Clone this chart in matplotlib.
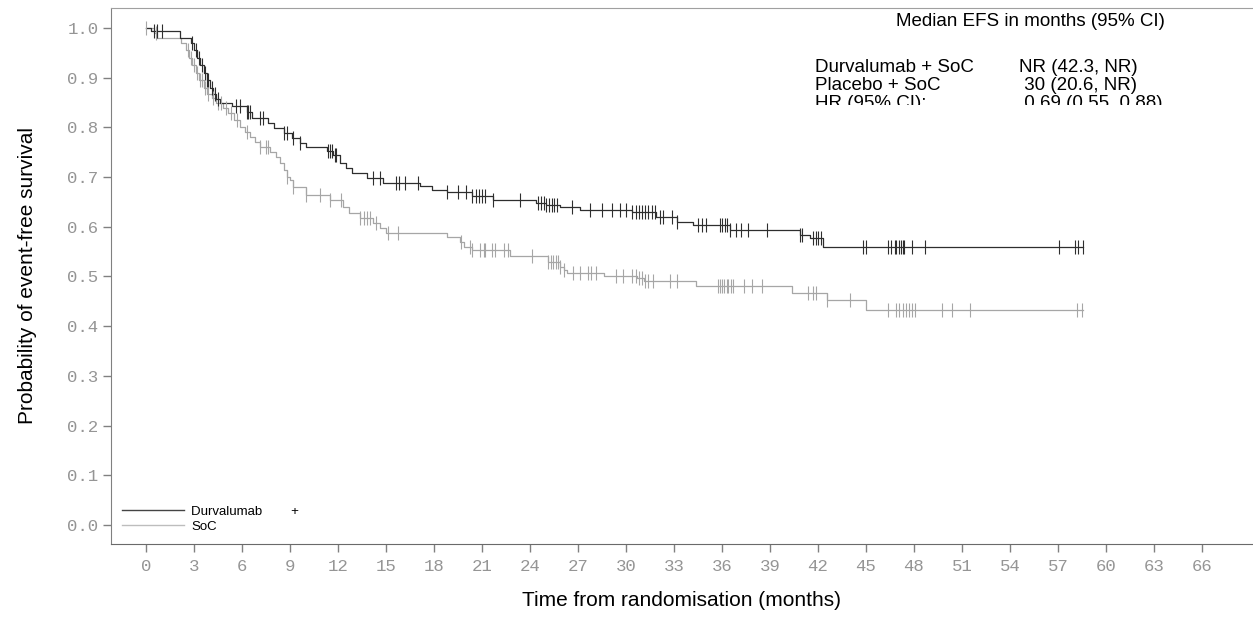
import numpy as np
import matplotlib
matplotlib.use("Agg")
import matplotlib.pyplot as plt
from matplotlib.lines import Line2D
from matplotlib.transforms import Bbox, TransformedBbox

# Kaplan-Meier step points: (month of drop, survival after drop)
durva_times = [0.0, 0.3, 2.1, 2.8, 3.0, 3.2, 3.4, 3.6, 3.8, 4.0, 4.2, 4.4, 4.6,
               5.4, 6.3, 6.6, 7.6, 8.0, 8.6, 9.1, 9.6, 10.0, 11.3, 11.7, 12.1,
               12.5, 12.9, 13.8, 14.8, 17.1, 17.9, 18.8, 20.4, 21.7, 24.4, 25.0,
               25.9, 27.1, 30.4, 31.9, 33.2, 34.2, 36.5, 40.9, 41.5, 42.3]
durva_surv = [1.0, 0.994, 0.98, 0.97, 0.955, 0.94, 0.925, 0.91, 0.895, 0.88,
              0.868, 0.856, 0.849, 0.843, 0.83, 0.819, 0.808, 0.798, 0.788,
              0.778, 0.768, 0.761, 0.752, 0.744, 0.728, 0.718, 0.708, 0.698,
              0.688, 0.682, 0.674, 0.670, 0.662, 0.654, 0.647, 0.644, 0.640,
              0.634, 0.630, 0.620, 0.610, 0.604, 0.594, 0.583, 0.577, 0.560]
durva_end = 58.6
durva_censor = [0.5, 0.7, 1.0, 2.9, 3.1, 3.3, 3.5, 3.7, 3.8, 3.9, 4.1, 4.3, 4.5,
                5.6, 5.9, 6.3, 6.4, 6.5, 7.1, 7.3, 8.6, 8.8, 9.2, 9.6, 11.4,
                11.5, 11.6, 11.8, 11.9, 14.2, 14.6, 15.6, 15.8, 16.2, 17.0,
                18.8, 19.5, 20.0, 20.4, 20.6, 20.8, 21.0, 21.2, 21.7, 23.4,
                24.5, 24.7, 24.9, 25.0, 25.2, 25.4, 25.5, 25.7, 26.6, 27.75,
                28.5, 29.1, 29.6, 30.0, 30.4, 30.6, 30.8, 31.0, 31.2, 31.4,
                31.6, 31.8, 32.1, 32.3, 32.9, 33.2, 34.5, 34.75, 35.0, 35.9,
                36.0, 36.2, 36.3, 36.5, 36.9, 37.2, 37.6, 38.8, 40.9, 41.0,
                41.7, 41.9, 42.0, 42.2, 44.8, 45.0, 46.4, 46.6, 46.8, 46.9,
                47.1, 47.2, 47.3, 47.4, 47.9, 48.7, 57.1, 58.1, 58.25, 58.6]

soc_times = [0.0, 0.5, 0.7, 2.2, 2.5, 2.7, 2.9, 3.1, 3.3, 3.6, 3.8, 4.1, 4.4,
             4.8, 5.1, 5.5, 5.9, 6.2, 6.5, 6.8, 7.1, 7.75, 8.1, 8.4, 8.6, 8.8,
             9.0, 9.2, 10.0, 11.5, 12.3, 12.7, 13.4, 14.2, 14.6, 15.0, 18.8,
             19.6, 19.9, 20.4, 22.75, 25.1, 25.9, 26.1, 26.3, 28.6, 30.7,
             31.1, 34.4, 40.4, 42.6, 45.0]
soc_surv = [1.0, 0.99, 0.98, 0.97, 0.955, 0.94, 0.925, 0.91, 0.895, 0.88,
            0.868, 0.858, 0.848, 0.838, 0.828, 0.815, 0.80, 0.79, 0.781,
            0.77, 0.761, 0.75, 0.74, 0.728, 0.714, 0.70, 0.694, 0.68, 0.664,
            0.654, 0.64, 0.628, 0.617, 0.607, 0.597, 0.587, 0.58, 0.57, 0.56,
            0.553, 0.542, 0.53, 0.52, 0.513, 0.508, 0.501, 0.497, 0.49, 0.48,
            0.467, 0.453, 0.433]
soc_end = 58.6
soc_censor = [0.0, 0.6, 2.6, 2.8, 3.0, 3.2, 3.4, 3.5, 3.7, 3.9, 4.2, 4.5, 4.7,
              5.0, 5.3, 5.7, 6.3, 7.1, 7.5, 7.6, 8.8, 9.2, 10.0, 10.9, 11.5,
              12.2, 13.4, 13.6, 13.8, 14.0, 14.4, 15.1, 15.75, 19.7, 20.25,
              20.4, 20.9, 21.1, 21.2, 21.6, 21.8, 22.4, 22.6, 24.1, 25.1,
              25.3, 25.45, 25.6, 25.75, 25.9, 26.1, 26.7, 27.1, 27.6, 27.8,
              28.1, 29.4, 29.8, 30.4, 30.6, 30.8, 31.0, 31.2, 31.4, 31.7,
              32.75, 33.2, 35.75, 35.9, 36.0, 36.15, 36.3, 36.4, 36.55, 36.7,
              37.4, 37.9, 38.5, 41.4, 41.7, 41.9, 42.6, 44.0, 46.4, 46.9,
              47.1, 47.3, 47.5, 47.7, 47.9, 48.1, 49.75, 50.4, 51.5, 58.2,
              58.5]

x_ticks = list(range(0, 67, 3))
y_ticks = [round(0.1 * i, 1) for i in range(11)]

legend_labels = ["Durvalumab" + " " * 8 + "+", "SoC"]
header = "Median EFS in months (95% CI)"
row_names = ["Durvalumab + SoC", "Placebo + SoC", "HR (95% CI):"]
row_values = ["NR (42.3, NR)", " 30 (20.6, NR)", " 0.69 (0.55, 0.88)"]

DARK = "#2e2e2e"
LIGHT = "#a6a6a6"
W, H = 1253, 619


def km_curve(ax, times, surv, end, censor, color):
    t = np.append(times, end)
    s = np.append(surv, surv[-1])
    ax.plot(t, s, drawstyle="steps-post", color=color, lw=0.9, zorder=3)
    idx = np.searchsorted(times, censor, side="right") - 1
    ax.plot(censor, np.asarray(surv)[idx], linestyle="none", marker="|",
            ms=9.5, mew=0.8, color=color, zorder=4)


fig = plt.figure(figsize=(W / 100, H / 100), dpi=100)
ax = fig.add_axes([111 / W, 1 - 544 / H, 1 - 111 / W, (544 - 8) / H])

km_curve(ax, soc_times, soc_surv, soc_end, soc_censor, LIGHT)
km_curve(ax, durva_times, durva_surv, durva_end, durva_censor, DARK)

ax.set_xlim(-2.19, 69.2)
ax.set_ylim(-0.038, 1.040)
ax.set_xticks(x_ticks)
ax.set_yticks(y_ticks)
ax.set_yticklabels([f"{v:.1f}" for v in y_ticks])

for lab in ax.get_xticklabels() + ax.get_yticklabels():
    lab.set_fontfamily("Liberation Mono")
    lab.set_fontsize(12.5)
    lab.set_color("#959595")
ax.tick_params(axis="both", direction="out", length=6, width=1, color="#808080")
ax.tick_params(axis="x", pad=5)
ax.tick_params(axis="y", pad=3)

ax.spines["right"].set_visible(False)
ax.spines["top"].set_color("#a0a0a0")
ax.spines["left"].set_color("#808080")
ax.spines["bottom"].set_color("#6a6a6a")

ax.set_xlabel("Time from randomisation (months)", fontfamily="Liberation Sans",
              fontsize=15, labelpad=12)
ax.set_ylabel("Probability of event-free survival", fontfamily="Liberation Sans",
              fontsize=15, labelpad=22)

handles = [Line2D([], [], color="#444444", lw=1),
           Line2D([], [], color="#bdbdbd", lw=1)]
ax.legend(handles, legend_labels, loc="lower left", frameon=False,
          prop={"family": "Liberation Sans", "size": 9.5},
          handlelength=4.7, handletextpad=0.55, labelspacing=0.2,
          borderpad=0.4, borderaxespad=0.45)

# median EFS box in the upper right
fig.text(896 / W, 1 - 26 / H, header, fontfamily="Liberation Sans",
         fontsize=13.5, va="baseline")
clip = TransformedBbox(Bbox([[0, 1 - 105 / H], [1, 1]]), fig.transFigure)
for i, (name, val) in enumerate(zip(row_names, row_values)):
    base = 1 - (72 + 18 * i) / H
    for x, s in ((815 / W, name), (1019 / W, val)):
        t = fig.text(x, base, s, fontfamily="Liberation Sans", fontsize=13.5,
                     va="baseline")
        t.set_clip_box(clip)
        t.set_clip_on(True)

fig.savefig("out.png", dpi=100)
